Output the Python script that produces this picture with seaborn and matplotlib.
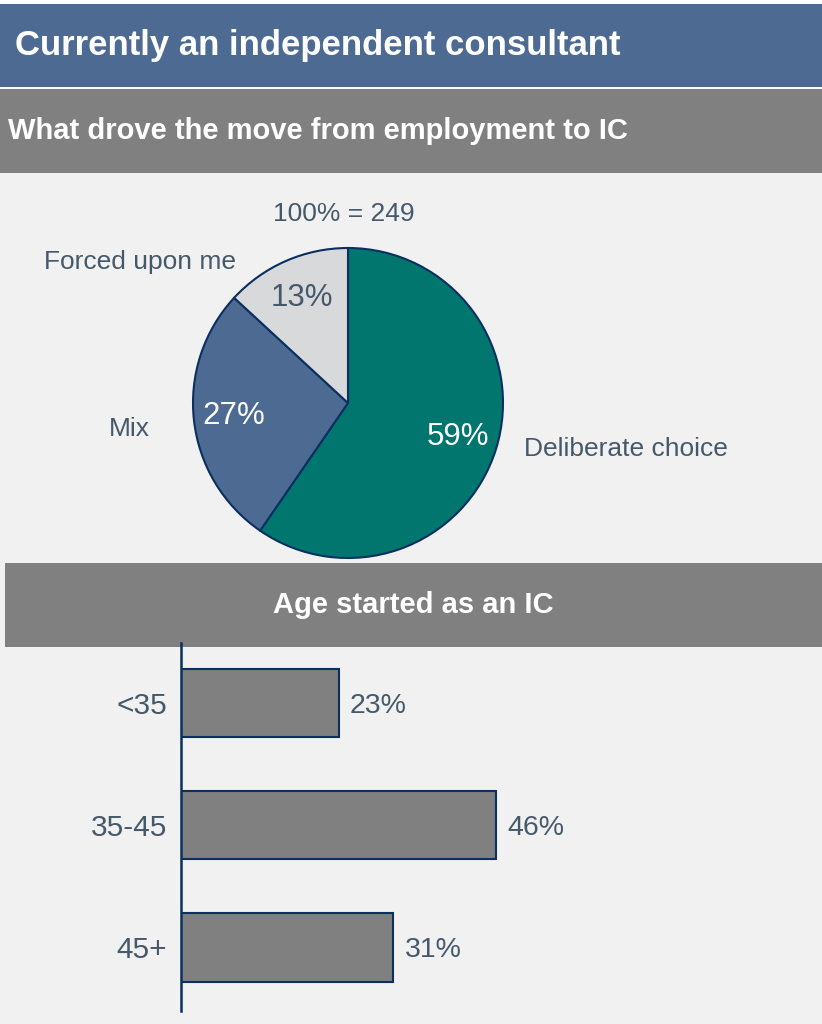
import matplotlib
matplotlib.use("Agg")
import matplotlib.pyplot as plt
import seaborn as sns
from matplotlib.patches import Rectangle

# Data
drivers = ["Deliberate choice", "Mix", "Forced upon me"]
driver_share = [59, 27, 13]
base_n = 249

age_groups = ["<35", "35-45", "45+"]
age_share = [23, 46, 31]

# Colours
blue = "#4D6A93"
teal = "#00766F"
light = "#D8D9DB"
grey = "#808080"
navy = "#0B2F5F"
text_col = "#46596B"
bg = "#F1F1F1"

sns.set_theme(style="white")
plt.rcParams["font.family"] = ["Liberation Sans", "DejaVu Sans"]

W, H = 822, 1024
fig = plt.figure(figsize=(W / 100, H / 100), dpi=100)
fig.patch.set_facecolor("white")


def box(x0, y0, x1, y1, color):
    # pixel coords, y measured from top
    fig.add_artist(Rectangle((x0 / W, 1 - y1 / H), (x1 - x0) / W, (y1 - y0) / H,
                             transform=fig.transFigure, facecolor=color,
                             edgecolor="none", zorder=0))


# Backgrounds and header bands
box(0, 173, W, H, bg)
box(0, 4, W, 87, blue)
box(0, 89, W, 173, grey)
box(5, 563, W, 647, grey)

fig.text(15 / W, 1 - 46 / H, "Currently an independent consultant", color="white",
         fontsize=25, fontweight="bold", ha="left", va="center")
fig.text(8 / W, 1 - 131 / H, "What drove the move from employment to IC", color="white",
         fontsize=21, fontweight="bold", ha="left", va="center")
fig.text(413 / W, 1 - 605 / H, "Age started as an IC", color="white",
         fontsize=21, fontweight="bold", ha="center", va="center")

# Pie chart
cx, cy, R = 348, 403, 155
ax_pie = fig.add_axes([(cx - R) / W, 1 - (cy + R) / H, 2 * R / W, 2 * R / H])
ax_pie.set_facecolor("none")
total = sum(driver_share)
wedges, labels, pcts = ax_pie.pie(
    driver_share,
    labels=drivers,
    colors=[teal, blue, light],
    startangle=90,
    counterclock=False,
    radius=1,
    autopct=lambda p: f"{p * total / 100:.0f}%",
    pctdistance=0.74,
    wedgeprops=dict(edgecolor=navy, linewidth=1.5),
    textprops=dict(color=text_col, fontsize=19),
)
ax_pie.set_xlim(-1, 1)
ax_pie.set_ylim(-1, 1)
ax_pie.axis("off")
for w in wedges:
    w.set_clip_on(False)

label_pos = [(1.79, -0.30), (-1.41, -0.17), (-1.34, 0.91)]
for t, pos in zip(labels, label_pos):
    t.set_position(pos)
    t.set_ha("center")
    t.set_va("center")
    t.set_clip_on(False)

pct_colors = ["white", "white", text_col]
for t, c in zip(pcts, pct_colors):
    t.set_color(c)
    t.set_fontsize(22.5)

ax_pie.text(-0.03, 1.22, f"100% = {base_n}", ha="center", va="center",
            color=text_col, fontsize=19, clip_on=False)

# Bar chart
ax = fig.add_axes([181 / W, 1 - 1011 / H, (592 - 181) / W, (1011 - 643) / H])
ax.set_facecolor("none")
sns.barplot(x=age_share, y=age_groups, orient="h", color=grey,
            edgecolor=navy, linewidth=1.5, width=0.56, saturation=1, ax=ax)
ax.set_xlim(0, 60)
ax.set_ylim(2.52, -0.49)
for s in ["top", "right", "bottom"]:
    ax.spines[s].set_visible(False)
ax.spines["left"].set_color(navy)
ax.spines["left"].set_linewidth(1.8)
ax.set_xticks([])
ax.set_xlabel("")
ax.set_ylabel("")
ax.tick_params(axis="y", length=0, pad=10, labelsize=21.5, labelcolor=text_col)
for t in ax.get_yticklabels():
    t.set_va("center_baseline")
bar_texts = ax.bar_label(ax.containers[0], labels=[f"{v}%" for v in age_share],
                         padding=8, fontsize=20.5, color=text_col)
for t in bar_texts:
    t.set_va("center_baseline")

fig.savefig("out.png", dpi=100, facecolor=fig.get_facecolor())
